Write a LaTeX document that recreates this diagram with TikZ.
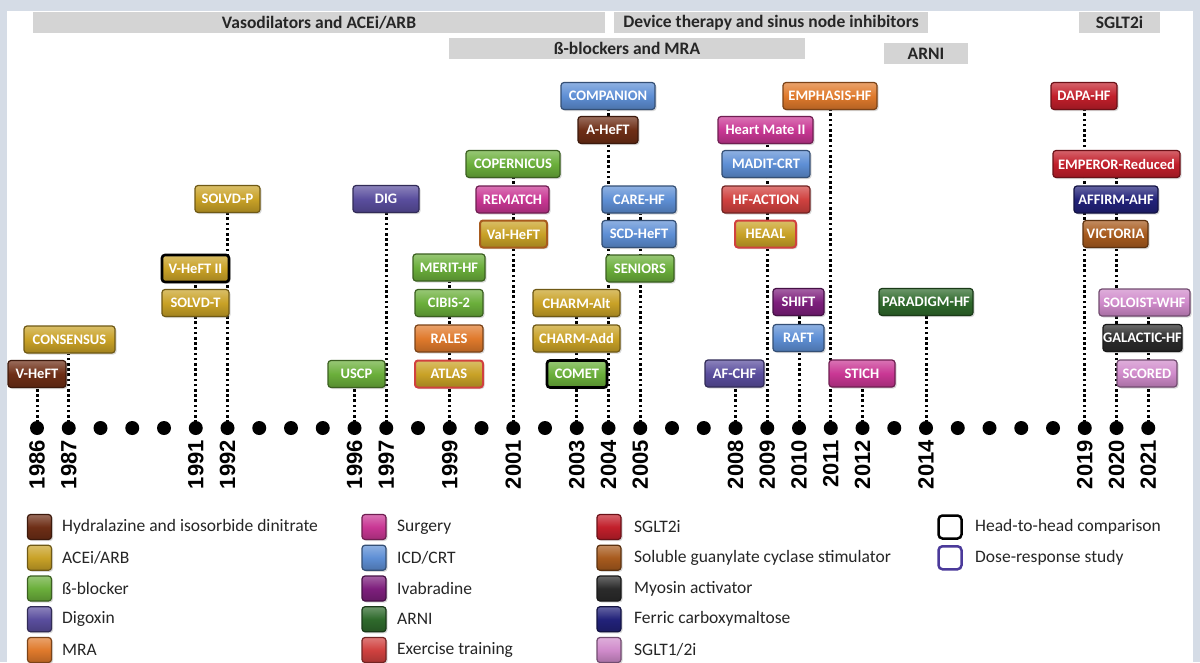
\documentclass[tikz,border=0pt]{standalone}
\usepackage{fontspec}
\setmainfont{Carlito}
\newfontfamily\yearfont{Liberation Sans}
\usetikzlibrary{shadows}

\definecolor{hyd}{HTML}{6E2E16}
\definecolor{ace}{HTML}{C9A227}
\definecolor{beta}{HTML}{6BAF3B}
\definecolor{dig}{HTML}{5A4E9E}
\definecolor{mra}{HTML}{E07A2C}
\definecolor{surg}{HTML}{C93794}
\definecolor{icd}{HTML}{5E8FD5}
\definecolor{ivab}{HTML}{7E1F7D}
\definecolor{arni}{HTML}{2F6A2C}
\definecolor{exer}{HTML}{D0413F}
\definecolor{sglt}{HTML}{C21F2B}
\definecolor{sgc}{HTML}{A85B1E}
\definecolor{myo}{HTML}{2B2B2B}
\definecolor{ferric}{HTML}{22227A}
\definecolor{sgltone}{HTML}{D08BCB}
\definecolor{dosecol}{HTML}{4B3A9A}
\definecolor{barcol}{HTML}{D4D4D4}
\definecolor{framecol}{HTML}{D5DCE6}

\pgfdeclarelayer{back}
\pgfdeclarelayer{lines}
\pgfsetlayers{back,lines,main}

\tikzset{
  trial/.style={rounded corners=3pt, draw=#1!55!black, line width=1.2pt,
    top color=#1!70!white, bottom color=#1!80!black, middle color=#1,
    minimum height=27, inner sep=0pt, text=white,
    font=\bfseries\fontsize{14.5}{15}\selectfont,
    drop shadow={opacity=0.3, shadow xshift=1.5pt, shadow yshift=-1.5pt}},
  swatch/.style={trial=#1, minimum width=24, minimum height=25},
  h2h/.style={draw=black, line width=2.6pt},
  rim/.style={draw=#1, line width=2pt},
}

\begin{document}
\begin{tikzpicture}[x=1pt,y=-1pt]
\tikzstyle{bar}=[fill=barcol, inner sep=0pt, minimum height=21, text=black!85, font=\bfseries\fontsize{17.5}{17.5}\selectfont]
\tikzstyle{dot}=[circle, fill=black, minimum size=14, inner sep=0pt]
\tikzstyle{yearlbl}=[rotate=90, anchor=east, inner sep=0pt, font=\yearfont\bfseries\fontsize{22}{22}\selectfont]
\tikzstyle{dotline}=[line width=3pt, dash pattern=on 2.6pt off 2.6pt]
\tikzstyle{legtext}=[anchor=west, inner sep=0pt, text=black!85, font=\fontsize{17.5}{17.5}\selectfont]
\tikzstyle{outline}=[rounded corners=4pt, line width=2.5pt, minimum size=23, inner sep=0pt]
\useasboundingbox (0,0) rectangle (1200,662);
\begin{pgfonlayer}{back}
\fill[framecol] (0,0) rectangle (1200,662);
\fill[white] (7,11) rectangle (1193,662);
\end{pgfonlayer}

% drug class periods
\node[bar, minimum width=572] (vaso) at (319,22.5) {Vasodilators and ACEi/ARB};
\node[bar, minimum width=314] (device) at (771,22.5) {Device therapy and sinus node inhibitors};
\node[bar, minimum width=81] (sgltbar) at (1119.5,22.5) {SGLT2i};
\node[bar, minimum width=356] (blockers) at (627,48.5) {ß-blockers and MRA};
\node[bar, minimum width=84] (arnibar) at (926,53.5) {ARNI};

% time axis
\foreach \yr in {1986,...,2021}
  \node[dot] (d\yr) at ({37+(\yr-1986)*31.75},428) {};
\foreach \yr in {1986,1987,1991,1992,1996,1997,1999,2001,2003,2004,2005,2008,2009,2010,2011,2012,2014,2019,2020,2021}
  \node[yearlbl] (y\yr) at ([yshift=-12pt]d\yr.center) {\yr};

% trials
\node[trial=hyd, minimum width=58] (vheft) at (37,374) {V-HeFT};
\node[trial=ace, minimum width=91] (consensus) at (69.5,339.5) {CONSENSUS};
\node[trial=ace, minimum width=65] (solvdp) at (227.5,199) {SOLVD-P};
\node[trial=ace, h2h, minimum width=67] (vhefttwo) at (195.5,268.5) {V-HeFT II};
\node[trial=ace, minimum width=67] (solvdt) at (195.5,303) {SOLVD-T};
\node[trial=dig, minimum width=66] (dig) at (386,199) {DIG};
\node[trial=beta, minimum width=57] (uscp) at (356.5,374) {USCP};
\node[trial=beta, minimum width=72] (merithf) at (449,267.5) {MERIT-HF};
\node[trial=beta, minimum width=68] (cibis) at (449,303) {CIBIS-2};
\node[trial=mra, minimum width=68] (rales) at (449,338.5) {RALES};
\node[trial=ace, rim=exer, minimum width=68] (atlas) at (449,374) {ATLAS};
\node[trial=beta, minimum width=94] (copernicus) at (513,164) {COPERNICUS};
\node[trial=surg, minimum width=73] (rematch) at (512.5,199.5) {REMATCH};
\node[trial=ace, rim=sgc, minimum width=67] (valheft) at (513.5,234) {Val-HeFT};
\node[trial=icd, minimum width=94] (companion) at (608,96) {COMPANION};
\node[trial=hyd, minimum width=60] (aheft) at (608,130) {A-HeFT};
\node[trial=icd, minimum width=74] (carehf) at (639,199.5) {CARE-HF};
\node[trial=icd, minimum width=74] (scdheft) at (639,234) {SCD-HeFT};
\node[trial=beta, minimum width=68] (seniors) at (640,268.5) {SENIORS};
\node[trial=ace, minimum width=87] (charmalt) at (576.5,303) {CHARM-Alt};
\node[trial=ace, minimum width=87] (charmadd) at (576.5,338.5) {CHARM-Add};
\node[trial=beta, h2h, minimum width=60] (comet) at (577,374) {COMET};
\node[trial=mra, minimum width=94] (emphasis) at (830,96) {EMPHASIS-HF};
\node[trial=surg, minimum width=95] (heartmate) at (765.5,130) {Heart Mate II};
\node[trial=icd, minimum width=88] (madit) at (766,164) {MADIT-CRT};
\node[trial=exer, minimum width=88] (hfaction) at (766,199.5) {HF-ACTION};
\node[trial=ace, rim=exer, minimum width=61] (heaal) at (765.5,234) {HEAAL};
\node[trial=ivab, minimum width=51] (shift) at (798.5,302) {SHIFT};
\node[trial=icd, minimum width=51] (raft) at (798.5,338) {RAFT};
\node[trial=dig, minimum width=59] (afchf) at (734.5,373.5) {AF-CHF};
\node[trial=surg, minimum width=66] (stich) at (862,373.5) {STICH};
\node[trial=arni, minimum width=94] (paradigm) at (926,302) {PARADIGM-HF};
\node[trial=sglt, minimum width=66] (dapa) at (1084,96) {DAPA-HF};
\node[trial=sglt, minimum width=127] (emperor) at (1116.5,164) {EMPEROR-Reduced};
\node[trial=ferric, minimum width=84] (affirm) at (1116,199.5) {AFFIRM-AHF};
\node[trial=sgc, minimum width=65] (victoria) at (1115.5,234) {VICTORIA};
\node[trial=sgltone, minimum width=91] (soloist) at (1144.5,302.5) {SOLOIST-WHF};
\node[trial=myo, minimum width=79] (galactic) at (1142.5,338) {GALACTIC-HF};
\node[trial=sgltone, minimum width=60] (scored) at (1147,373.5) {SCORED};

% year to trials
\begin{pgfonlayer}{lines}
\foreach \yr/\top in {1986/vheft,1987/consensus,1991/vhefttwo,1992/solvdp,1996/uscp,1997/dig,
    1999/merithf,2001/copernicus,2003/charmalt,2004/companion,2005/carehf,2008/afchf,
    2009/heartmate,2010/shift,2011/emphasis,2012/stich,2014/paradigm,2019/dapa,
    2020/emperor,2021/soloist}
  \draw[dotline] (d\yr.center) -- (d\yr |- \top.south);
\end{pgfonlayer}

% legend
\foreach \c/\t [count=\i] in {hyd/{Hydralazine and isosorbide dinitrate}, ace/{ACEi/ARB},
    beta/{ß-blocker}, dig/{Digoxin}, mra/{MRA}} {
  \node[swatch=\c] (sa\i) at (39.5,{527+(\i-1)*30.75}) {};
  \node[legtext] (la\i) at (62,{527+(\i-1)*30.75}) {\t};
}
\foreach \c/\t [count=\i] in {surg/{Surgery}, icd/{ICD/CRT}, ivab/{Ivabradine},
    arni/{ARNI}, exer/{Exercise training}} {
  \node[swatch=\c] (sb\i) at (374,{527+(\i-1)*30.75}) {};
  \node[legtext] (lb\i) at (397,{527+(\i-1)*30.75}) {\t};
}
\foreach \c/\t [count=\i] in {sglt/{SGLT2i}, sgc/{Soluble guanylate cyclase stimulator},
    myo/{Myosin activator}, ferric/{Ferric carboxymaltose}, sgltone/{SGLT1/2i}} {
  \node[swatch=\c] (sc\i) at (609,{527+(\i-1)*30.75}) {};
  \node[legtext] (lc\i) at (634,{527+(\i-1)*30.75}) {\t};
}
\node[outline, draw=black] (sd1) at (950,527) {};
\node[legtext] (ld1) at (975,527) {Head-to-head comparison};
\node[outline, draw=dosecol] (sd2) at (950,557.75) {};
\node[legtext] (ld2) at (975,557.75) {Dose-response study};
\end{tikzpicture}
\end{document}
